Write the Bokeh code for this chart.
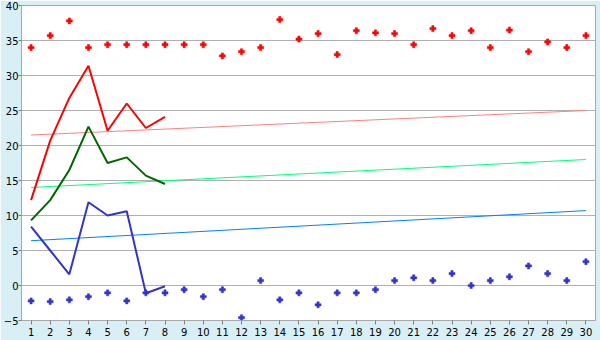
from bokeh.plotting import figure
from bokeh.embed import file_html
from bokeh.resources import INLINE
from bokeh.models import FixedTicker, Range1d

days = list(range(1, 31))
red_points = [34.0, 35.7, 37.8, 34.0, 34.4, 34.4, 34.4, 34.4, 34.4, 34.4,
              32.8, 33.4, 34.0, 38.0, 35.2, 36.0, 33.0, 36.4, 36.1, 36.0,
              34.4, 36.7, 35.7, 36.4, 34.0, 36.5, 33.4, 34.8, 34.0, 35.7]
blue_points = [-2.2, -2.3, -2.05, -1.6, -1.05, -2.2, -1.05, -1.05, -0.6, -1.6,
               -0.6, -4.6, 0.7, -2.05, -1.05, -2.75, -1.05, -1.05, -0.6, 0.7,
               1.1, 0.7, 1.7, 0.0, 0.7, 1.25, 2.8, 1.7, 0.7, 3.4]
line_days = [1, 2, 3, 4, 5, 6, 7, 8]
red_line = [12.2, 20.7, 26.8, 31.4, 22.1, 26.0, 22.5, 24.1]
green_line = [9.3, 12.2, 16.5, 22.7, 17.5, 18.3, 15.7, 14.5]
blue_line = [8.4, 5.0, 1.6, 11.9, 10.0, 10.6, -1.1, -0.1]
trend_days = [1, 30]
red_trend = [21.5, 25.0]
green_trend = [14.0, 18.0]
blue_trend = [6.4, 10.7]
y_ticks = [-5, 0, 5, 10, 15, 20, 25, 30, 35, 40]

p = figure(width=600, height=340, output_backend="svg", toolbar_location=None,
           x_range=Range1d(0.5, 30.5), y_range=Range1d(-5, 40),
           min_border_left=0, min_border_right=5, min_border_top=5, min_border_bottom=20)
p.border_fill_color = "#d9eff6"
p.background_fill_color = "white"
p.outline_line_color = "#a8a8a8"
p.outline_line_width = 1

p.xgrid.visible = False
p.ygrid.grid_line_color = "#b0b0b0"
p.ygrid.ticker = FixedTicker(ticks=y_ticks)

p.xaxis.ticker = FixedTicker(ticks=days)
p.yaxis.ticker = FixedTicker(ticks=y_ticks)
for ax in (p.xaxis[0], p.yaxis[0]):
    ax.axis_line_color = "#a8a8a8"
    ax.major_tick_line_color = "#808080"
    ax.major_tick_out = 4
    ax.major_tick_in = 0
    ax.minor_tick_line_color = None
    ax.major_label_text_font = "DejaVu Sans"
    ax.major_label_text_font_size = "10px"
    ax.major_label_text_color = "black"
p.yaxis.major_tick_out = 3
p.xaxis.major_label_standoff = 3
p.yaxis.major_label_standoff = 0

p.line(trend_days, red_trend, line_color="#ff8080", line_width=1)
p.line(trend_days, green_trend, line_color="#00ff80", line_width=1)
p.line(trend_days, blue_trend, line_color="#0080ff", line_width=1)

p.line(line_days, red_line, line_color="#ff0000", line_width=2)
p.line(line_days, green_line, line_color="#006600", line_width=2)
p.line(line_days, blue_line, line_color="#3333cc", line_width=2)

p.scatter(days, red_points, marker="plus", size=6, fill_color="#ff0000", line_color="#ff0000", line_width=0.5)
p.scatter(days, blue_points, marker="plus", size=6, fill_color="#3333cc", line_color="#3333cc", line_width=0.5)

open("out.html", "w").write(file_html(p, INLINE))
